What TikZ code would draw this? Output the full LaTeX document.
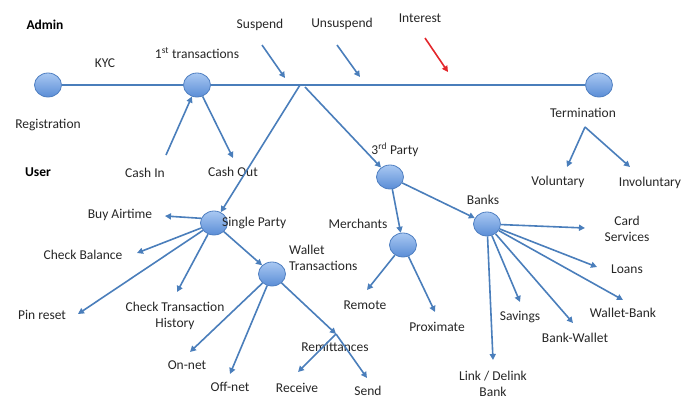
\documentclass[tikz,border=0pt]{standalone}
\usepackage{fontspec}
\setmainfont{Carlito}
\usepackage{xcolor}
\definecolor{cLine}{HTML}{4A7EBB}
\definecolor{cBallTop}{HTML}{A9C8F2}
\definecolor{cBallBot}{HTML}{5A8DD6}
\definecolor{cBallEdge}{HTML}{4F7FC1}
\definecolor{cText}{HTML}{262626}
\definecolor{cHot}{HTML}{E3262B}
\usepackage{tikz}
\usetikzlibrary{arrows.meta,shapes.geometric,backgrounds}
\tikzset{
  node-ball/.style={ellipse,draw=cBallEdge,thick,top color=cBallTop,
    bottom color=cBallBot,minimum width=27pt,minimum height=24pt,inner sep=0pt},
  node-lbl/.style={text=cText,inner sep=1pt,align=center,
    font=\fontsize{13.5}{16}\selectfont},
  node-head/.style={node-lbl,text=black,font=\fontsize{13.5}{16}\selectfont\bfseries},
  arrow/.style={-{Triangle[length=6pt,width=6pt]},line width=1.6pt,draw=cLine},
  arrow-hot/.style={arrow,draw=cHot},
  spine/.style={line width=1.6pt,draw=cLine},
}

\begin{document}
\begin{tikzpicture}[x=1pt,y=-1pt]
  \useasboundingbox (0,0) rectangle (683,399);
  % lifecycle balls
  \node[node-ball] (reg)  at (48,85)   {};
  \node[node-ball] (ft)   at (197,85)  {};
  \node[node-ball] (term) at (599,85)  {};
  \node[node-ball] (sp)   at (214,223) {};
  \node[node-ball] (wt)   at (272,274) {};
  \node[node-ball] (tp)   at (390,177) {};
  \node[node-ball] (mc)   at (403,245) {};
  \node[node-ball] (bk)   at (487,224) {};
  % labels
  \node[node-head] (admin) at (45,25)  {Admin};
  \node[node-head] (user)  at (38,172) {User};
  \node[node-lbl] (kyc)    at (105,63)  {KYC};
  \node[node-lbl] (ftl)    at (197,53)  {1\textsuperscript{st} transactions};
  \node[node-lbl] (regl)   at (48,125)  {Registration};
  \node[node-lbl] (cin)    at (145,173) {Cash In};
  \node[node-lbl] (cout)   at (233,172) {Cash Out};
  \node[node-lbl] (susp)   at (260,25)  {Suspend};
  \node[node-lbl] (unsusp) at (342,24)  {Unsuspend};
  \node[node-lbl] (intr)   at (420,18)  {Interest};
  \node[node-lbl] (terml)  at (583,113) {Termination};
  \node[node-lbl] (vol)    at (558,182) {Voluntary};
  \node[node-lbl] (invol)  at (650,183) {Involuntary};
  \node[node-lbl] (buy)    at (120,215) {Buy Airtime};
  \node[node-lbl,anchor=west] (spl) at (221,223) {Single Party};
  \node[node-lbl] (bal)    at (83,255)  {Check Balance};
  \node[node-lbl] (pin)    at (42,315)  {Pin reset};
  \node[node-lbl] (cth)    at (175,316) {Check Transaction\\History};
  \node[node-lbl,anchor=west,align=left] (wtl) at (288,258) {Wallet\\Transactions};
  \node[node-lbl] (onnet)  at (187,365) {On-net};
  \node[node-lbl] (offnet) at (230,387) {Off-net};
  \node[node-lbl] (rem)    at (335,347) {Remittances};
  \node[node-lbl] (recv)   at (297,388) {Receive};
  \node[node-lbl] (send)   at (368,391) {Send};
  \node[node-lbl] (tpl)    at (395,150) {3\textsuperscript{rd} Party};
  \node[node-lbl] (mcl)    at (358,224) {Merchants};
  \node[node-lbl] (remote) at (365,305) {Remote};
  \node[node-lbl] (prox)   at (437,327) {Proximate};
  \node[node-lbl] (bkl)    at (483,200) {Banks};
  \node[node-lbl] (card)   at (627,229) {Card\\Services};
  \node[node-lbl] (loans)  at (627,269) {Loans};
  \node[node-lbl] (wb)     at (623,313) {Wallet-Bank};
  \node[node-lbl] (bw)     at (575,338) {Bank-Wallet};
  \node[node-lbl] (sav)    at (520,317) {Savings};
  \node[node-lbl] (link)   at (493,384) {Link / Delink\\Bank};
  % free ends of the connectors
  \coordinate (suspT)  at (262,45);  \coordinate (suspH)  at (285,78);
  \coordinate (unsT)   at (337,45);  \coordinate (unsH)   at (360,77);
  \coordinate (intT)   at (425,38);  \coordinate (intH)   at (448,72);
  \coordinate (cinT)   at (166,155); \coordinate (coutH)  at (233,158);
  \coordinate (br1)    at (300,85);  \coordinate (br2)    at (305,87);
  \coordinate (buyH)   at (165,216); \coordinate (balH)   at (137,253);
  \coordinate (pinH)   at (78,314);  \coordinate (cthH)   at (177,292);
  \coordinate (onH)    at (190,352); \coordinate (offH)   at (230,374);
  \coordinate (remJ)   at (336,334);
  \coordinate (recvH)  at (298,372); \coordinate (sendH)  at (367,378);
  \coordinate (remoteH) at (367,290); \coordinate (proxH) at (435,312);
  \coordinate (cardH)  at (585,228); \coordinate (loansH) at (597,267);
  \coordinate (wbH)    at (623,300); \coordinate (bwH)    at (573,323);
  \coordinate (savH)   at (520,302); \coordinate (linkH)  at (493,360);
  \coordinate (fork)   at (585,127);
  \coordinate (volH)   at (567,167); \coordinate (involH) at (630,167);
  \begin{scope}[on background layer]
    \draw[spine] (reg) -- (term);
  \end{scope}
  \draw[arrow]     (suspT) -- (suspH);
  \draw[arrow]     (unsT) -- (unsH);
  \draw[arrow-hot] (intT) -- (intH);
  \draw[arrow] (cinT) -- (ft);
  \draw[arrow] (ft) -- (coutH);
  \draw[arrow] (br1) -- (sp);
  \draw[arrow] (br2) -- (tp);
  \draw[arrow] (sp.160) -- (buyH);
  \draw[arrow] (sp) -- (balH);
  \draw[arrow] (sp) -- (pinH);
  \draw[arrow] (sp) -- (cthH);
  \draw[arrow] (sp) -- (wt);
  \draw[arrow] (wt) -- (onH);
  \draw[arrow] (wt) -- (offH);
  \draw[arrow] (wt) -- (remJ);
  \draw[arrow] (remJ) -- (recvH);
  \draw[arrow] (remJ) -- (sendH);
  \draw[arrow] (tp) -- (mc);
  \draw[arrow] (tp) -- (bk);
  \draw[arrow] (mc) -- (remoteH);
  \draw[arrow] (mc) -- (proxH);
  \draw[arrow] (bk) -- (cardH);
  \draw[arrow] (bk) -- (loansH);
  \draw[arrow] (bk) -- (wbH);
  \draw[arrow] (bk) -- (bwH);
  \draw[arrow] (bk) -- (savH);
  \draw[arrow] (bk) -- (linkH);
  \draw[arrow] (fork) -- (volH);
  \draw[arrow] (fork) -- (involH);
\end{tikzpicture}
\end{document}
